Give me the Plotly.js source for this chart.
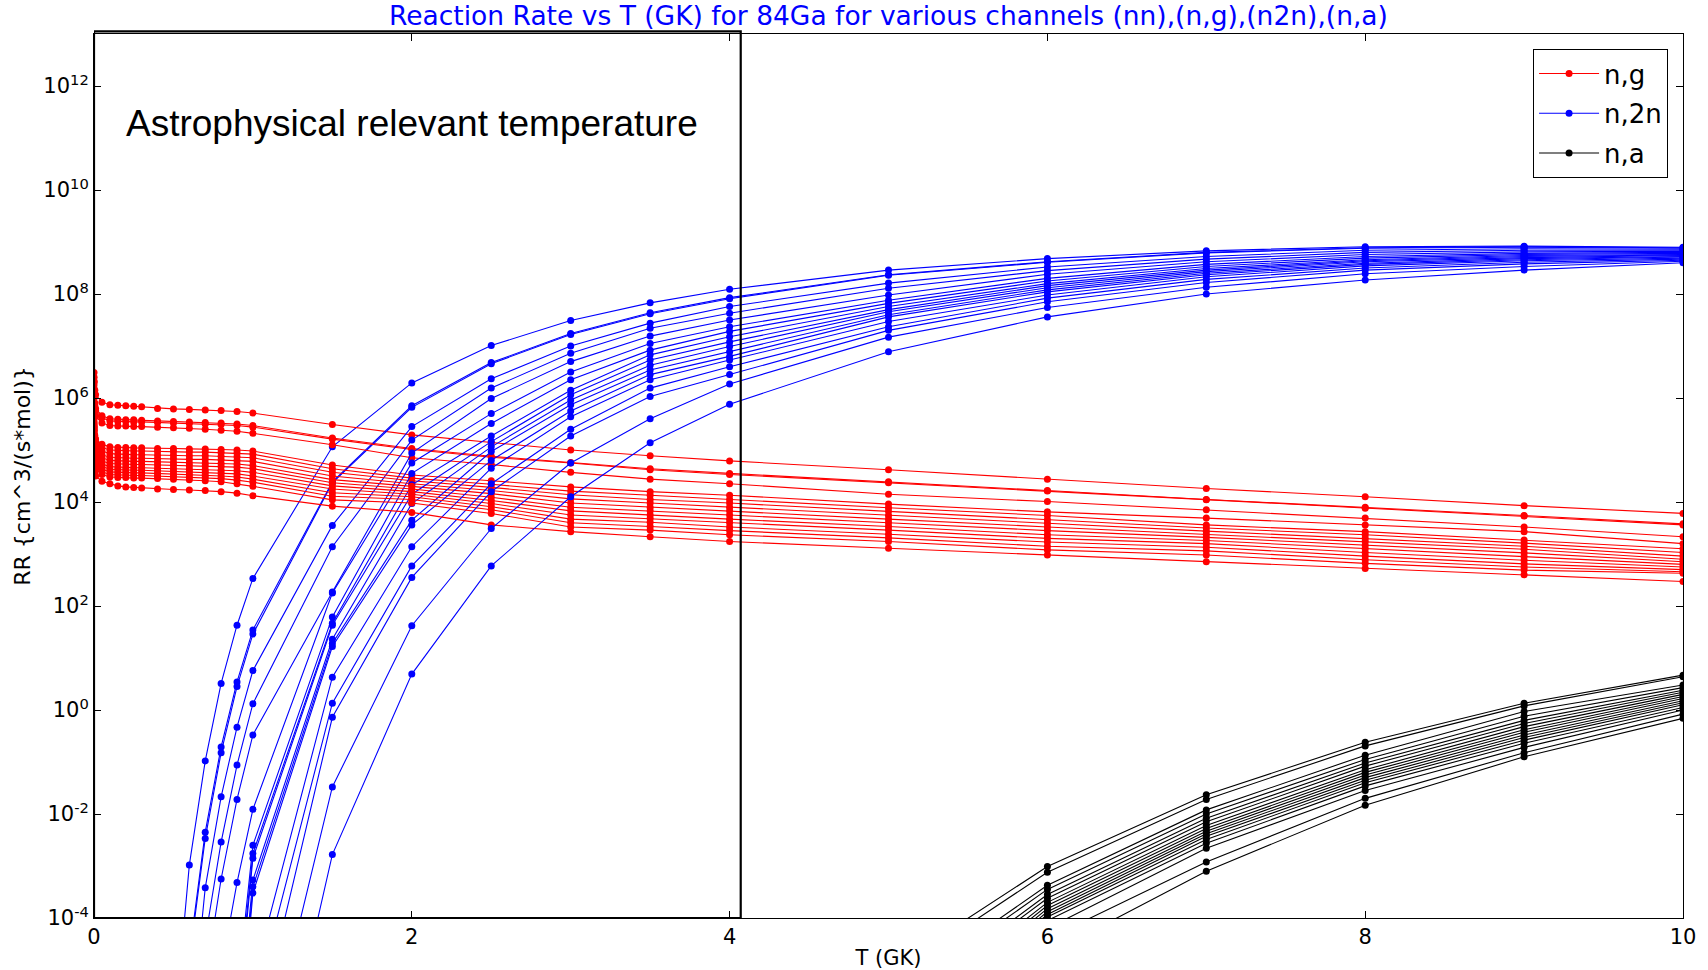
<!DOCTYPE html>
<html>
<head>
<meta charset="utf-8">
<script src="https://cdn.plot.ly/plotly-3.0.1.min.js"></script>
<style>html,body{margin:0;padding:0;background:#fff;}#chart{width:1708px;height:970px;}</style>
</head>
<body>
<div id="chart"></div>
<script>
// Temperature grids (GK)
const T_NG = [0.0001, 0.0005, 0.001, 0.005, 0.01, 0.05, 0.1, 0.15, 0.2, 0.25, 0.3, 0.4, 0.5, 0.6, 0.7, 0.8, 0.9, 1, 1.5, 2, 2.5, 3, 3.5, 4, 5, 6, 7, 8, 9, 10];
const T_N2N = [0.5, 0.6, 0.7, 0.8, 0.9, 1, 1.5, 2, 2.5, 3, 3.5, 4, 5, 6, 7, 8, 9, 10];
const T_NA = [5, 6, 7, 8, 9, 10];

// y tick positions and labels
const Y_TICKS = [1e-4, 1e-2, 1, 1e2, 1e4, 1e6, 1e8, 1e10, 1e12];
const Y_LABELS = ['10<sup>-4</sup>', '10<sup>-2</sup>', '10<sup>0</sup>', '10<sup>2</sup>', '10<sup>4</sup>', '10<sup>6</sup>', '10<sup>8</sup>', '10<sup>10</sup>', '10<sup>12</sup>'];

// (n,g) reaction rates
const NG_01 = [3.09e6, 2.51e6, 2.09e6, 1.41e6, 1.15e6, 8.32e5, 7.41e5, 7.24e5, 7.08e5, 6.92e5, 6.76e5, 6.31e5, 6.17e5, 6.03e5, 5.89e5, 5.75e5, 5.50e5, 5.13e5, 3.09e5, 1.95e5, 1.38e5, 1.0e5, 7.76e4, 6.17e4, 4.17e4, 2.75e4, 1.82e4, 1.26e4, 8.51e3, 6.03e3];
const NG_02 = [2.0e6, 1.51e6, 1.26e6, 7.94e5, 6.31e5, 4.57e5, 3.98e5, 3.89e5, 3.80e5, 3.80e5, 3.72e5, 3.63e5, 3.55e5, 3.47e5, 3.39e5, 3.31e5, 3.16e5, 2.95e5, 1.70e5, 1.07e5, 7.59e4, 5.75e4, 4.37e4, 3.55e4, 2.45e4, 1.66e4, 1.12e4, 7.94e3, 5.50e3, 3.80e3];
const NG_03 = [1.78e6, 1.32e6, 1.12e6, 7.24e5, 5.75e5, 4.17e5, 3.63e5, 3.55e5, 3.55e5, 3.47e5, 3.47e5, 3.39e5, 3.31e5, 3.24e5, 3.16e5, 3.09e5, 2.95e5, 2.75e5, 1.62e5, 1.02e5, 7.24e4, 5.62e4, 4.17e4, 3.39e4, 2.34e4, 1.62e4, 1.10e4, 7.59e3, 5.37e3, 3.63e3];
const NG_04 = [1.26e6, 1.0e6, 8.32e5, 5.62e5, 4.47e5, 3.31e5, 2.95e5, 2.88e5, 2.88e5, 2.82e5, 2.82e5, 2.75e5, 2.69e5, 2.63e5, 2.51e5, 2.40e5, 2.29e5, 2.09e5, 1.26e5, 7.08e4, 5.25e4, 3.72e4, 2.75e4, 2.24e4, 1.41e4, 1.02e4, 7.08e3, 4.90e3, 3.31e3, 2.14e3];
const NG_05 = [4.07e5, 3.24e5, 2.75e5, 1.91e5, 1.62e5, 1.29e5, 1.15e5, 1.12e5, 1.12e5, 1.10e5, 1.10e5, 1.07e5, 1.07e5, 1.05e5, 1.05e5, 1.02e5, 1.0e5, 9.55e4, 5.13e4, 3.31e4, 2.57e4, 1.95e4, 1.58e4, 1.35e4, 9.12e3, 6.46e3, 4.90e3, 3.63e3, 2.69e3, 1.58e3];
const NG_06 = [3.55e5, 2.82e5, 2.40e5, 1.66e5, 1.41e5, 1.12e5, 1.0e5, 9.77e4, 9.77e4, 9.55e4, 9.55e4, 9.33e4, 9.33e4, 9.12e4, 9.12e4, 8.91e4, 8.71e4, 8.32e4, 4.37e4, 2.88e4, 2.19e4, 1.62e4, 1.35e4, 1.12e4, 7.76e3, 5.50e3, 3.63e3, 2.69e3, 1.86e3, 1.26e3];
const NG_07 = [3.02e5, 2.40e5, 2.04e5, 1.41e5, 1.20e5, 9.55e4, 8.51e4, 8.32e4, 8.32e4, 8.13e4, 8.13e4, 7.94e4, 7.94e4, 7.76e4, 7.76e4, 7.59e4, 7.41e4, 7.08e4, 3.72e4, 2.57e4, 1.91e4, 1.38e4, 1.12e4, 9.55e3, 6.61e3, 4.57e3, 3.16e3, 2.34e3, 1.62e3, 1.07e3];
const NG_08 = [2.57e5, 2.04e5, 1.74e5, 1.20e5, 1.02e5, 8.13e4, 7.24e4, 7.08e4, 7.08e4, 6.92e4, 6.92e4, 6.76e4, 6.76e4, 6.61e4, 6.61e4, 6.46e4, 6.31e4, 6.03e4, 3.16e4, 2.24e4, 1.66e4, 1.15e4, 9.55e3, 7.94e3, 5.50e3, 3.89e3, 2.75e3, 2.0e3, 1.41e3, 9.12e2];
const NG_09 = [2.24e5, 1.78e5, 1.51e5, 1.05e5, 8.91e4, 7.08e4, 6.31e4, 6.17e4, 6.17e4, 6.03e4, 6.03e4, 5.89e4, 5.75e4, 5.62e4, 5.62e4, 5.50e4, 5.37e4, 5.01e4, 2.69e4, 2.0e4, 1.45e4, 9.55e3, 7.94e3, 6.76e3, 4.68e3, 3.31e3, 2.40e3, 1.74e3, 1.23e3, 7.94e2];
const NG_10 = [1.95e5, 1.55e5, 1.32e5, 9.12e4, 7.76e4, 6.17e4, 5.50e4, 5.37e4, 5.37e4, 5.25e4, 5.25e4, 5.13e4, 5.01e4, 4.90e4, 4.90e4, 4.79e4, 4.68e4, 4.37e4, 2.34e4, 1.78e4, 1.23e4, 7.94e3, 6.76e3, 5.62e3, 3.98e3, 2.82e3, 2.09e3, 1.48e3, 1.05e3, 7.08e2];
const NG_11 = [1.70e5, 1.35e5, 1.15e5, 7.94e4, 6.76e4, 5.37e4, 4.79e4, 4.68e4, 4.68e4, 4.57e4, 4.57e4, 4.47e4, 4.37e4, 4.27e4, 4.17e4, 4.07e4, 3.98e4, 3.72e4, 2.04e4, 1.58e4, 1.07e4, 6.76e3, 5.62e3, 4.68e3, 3.39e3, 2.34e3, 1.82e3, 1.26e3, 8.91e2, 6.31e2];
const NG_12 = [1.51e5, 1.20e5, 1.02e5, 7.08e4, 6.03e4, 4.79e4, 4.27e4, 4.17e4, 4.17e4, 4.07e4, 4.07e4, 3.98e4, 3.89e4, 3.80e4, 3.72e4, 3.63e4, 3.47e4, 3.16e4, 1.78e4, 1.41e4, 9.33e3, 5.62e3, 4.79e3, 3.98e3, 2.88e3, 2.0e3, 1.58e3, 1.07e3, 7.59e2, 5.62e2];
const NG_13 = [1.35e5, 1.07e5, 9.12e4, 6.31e4, 5.37e4, 4.27e4, 3.80e4, 3.72e4, 3.72e4, 3.63e4, 3.63e4, 3.55e4, 3.47e4, 3.39e4, 3.31e4, 3.16e4, 3.02e4, 2.75e4, 1.51e4, 1.26e4, 8.13e3, 4.68e3, 4.07e3, 3.31e3, 2.40e3, 1.70e3, 1.35e3, 9.12e2, 6.46e2, 5.01e2];
const NG_14 = [1.20e5, 9.55e4, 8.13e4, 5.62e4, 4.79e4, 3.80e4, 3.39e4, 3.31e4, 3.31e4, 3.24e4, 3.24e4, 3.16e4, 3.09e4, 3.02e4, 2.95e4, 2.82e4, 2.63e4, 2.40e4, 1.29e4, 1.12e4, 7.08e3, 3.98e3, 3.39e3, 2.82e3, 2.04e3, 1.41e3, 1.15e3, 7.76e2, 5.62e2, 4.57e2];
const NG_15 = [1.07e5, 8.51e4, 7.24e4, 5.01e4, 4.27e4, 3.39e4, 3.02e4, 2.95e4, 2.95e4, 2.88e4, 2.88e4, 2.82e4, 2.75e4, 2.69e4, 2.57e4, 2.45e4, 2.24e4, 2.0e4, 1.10e4, 9.55e3, 6.03e3, 3.31e3, 2.88e3, 2.34e3, 1.74e3, 1.20e3, 9.55e2, 6.61e2, 4.90e2, 4.27e2];
const NG_16 = [7.94e4, 6.31e4, 5.37e4, 3.72e4, 3.16e4, 2.51e4, 2.24e4, 2.04e4, 1.95e4, 1.91e4, 1.86e4, 1.78e4, 1.74e4, 1.70e4, 1.66e4, 1.58e4, 1.48e4, 1.32e4, 8.32e3, 6.31e3, 3.63e3, 2.69e3, 2.14e3, 1.74e3, 1.29e3, 9.55e2, 7.08e2, 5.25e2, 3.98e2, 2.95e2];

// (n,2n) reaction rates
const N2N_01 = [4.0e-7, 1.05e-3, 1.05e-1, 3.24, 42.7, 339, 1.15e5, 1.95e6, 1.02e7, 3.09e7, 6.76e7, 1.23e8, 2.88e8, 4.79e8, 6.76e8, 8.13e8, 8.32e8, 7.94e8];
const N2N_02 = [null, 2.0e-5, 4.47e-3, 1.95e-1, 3.47, 34.7, 2.45e4, 7.08e5, 4.79e6, 1.74e7, 4.37e7, 8.51e7, 2.34e8, 4.17e8, 6.31e8, 7.76e8, 8.13e8, 7.76e8];
const N2N_03 = [null, 1.58e-5, 3.39e-3, 1.51e-1, 2.82, 28.8, 2.34e4, 6.61e5, 4.57e6, 1.66e7, 4.17e7, 8.13e7, 2.29e8, 4.07e8, 6.17e8, 7.59e8, 7.94e8, 7.59e8];
const N2N_04 = [null, 3.16e-7, 3.80e-4, 2.14e-2, 4.68e-1, 5.75, 3.55e3, 2.82e5, 2.34e6, 1.0e7, 2.75e7, 5.75e7, 1.62e8, 3.31e8, 5.25e8, 6.92e8, 7.41e8, 7.24e8];
const N2N_05 = [null, null, 3.98e-5, 2.88e-3, 8.71e-2, 1.32, 1.38e3, 1.55e5, 1.55e6, 7.24e6, 2.19e7, 4.27e7, 1.29e8, 2.82e8, 4.68e8, 6.31e8, 6.92e8, 6.92e8];
const N2N_06 = [null, null, 6.31e-6, 5.62e-4, 1.91e-2, 3.31e-1, 186, 8.71e4, 9.77e5, 5.01e6, 1.55e7, 3.16e7, 9.55e7, 2.40e8, 4.17e8, 5.75e8, 6.46e8, 6.61e8];
const N2N_07 = [null, null, null, 1.0e-5, 4.79e-4, 1.23e-2, 178, 5.62e4, 5.01e5, 3.16e6, 1.12e7, 2.34e7, 7.59e7, 2.0e8, 3.72e8, 5.25e8, 6.03e8, 6.31e8];
const N2N_08 = [null, null, null, null, 3.16e-6, 2.51e-3, 61.7, 3.55e4, 3.24e5, 2.24e6, 8.32e6, 1.91e7, 6.61e7, 1.78e8, 3.39e8, 4.90e8, 5.75e8, 6.03e8];
const N2N_09 = [null, null, null, null, 1.58e-6, 1.74e-3, 46.8, 2.14e4, 1.86e5, 1.41e6, 6.76e6, 1.51e7, 5.75e7, 1.58e8, 3.09e8, 4.57e8, 5.50e8, 5.75e8];
const N2N_10 = [null, null, null, null, 1.0e-6, 1.41e-3, 42.7, 1.41e4, 1.45e5, 1.15e6, 5.37e6, 1.20e7, 5.01e7, 1.45e8, 2.88e8, 4.37e8, 5.25e8, 5.62e8];
const N2N_11 = [null, null, null, null, 3.16e-7, 5.37e-4, 22.9, 9.33e3, 1.15e5, 9.12e5, 4.27e6, 9.77e6, 4.57e7, 1.32e8, 2.69e8, 4.17e8, 5.01e8, 5.50e8];
const N2N_12 = [null, null, null, null, 1.58e-7, 3.98e-4, 19.1, 4.47e3, 9.33e4, 7.41e5, 3.47e6, 7.76e6, 3.98e7, 1.20e8, 2.51e8, 3.89e8, 4.79e8, 5.25e8];
const N2N_13 = [null, null, null, null, 1.0e-7, 3.02e-4, 16.6, 3.63e3, 6.31e4, 5.62e5, 2.82e6, 6.31e6, 3.63e7, 1.10e8, 2.34e8, 3.72e8, 4.57e8, 5.13e8];
const N2N_14 = [null, null, null, null, null, 6.31e-6, 4.27, 1.38e3, 4.47e4, 4.37e5, 2.24e6, 5.37e6, 2.95e7, 9.55e7, 2.14e8, 3.47e8, 4.37e8, 4.90e8];
const N2N_15 = [null, null, null, null, null, 1.58e-6, 1.35, 589, 2.24e4, 2.51e5, 1.55e6, 3.98e6, 2.34e7, 8.32e7, 1.91e8, 3.16e8, 4.07e8, 4.68e8];
const N2N_16 = [null, null, null, null, null, 2.51e-7, 7.24e-1, 355, 1.58e4, 1.86e5, 1.07e6, 2.82e6, 2.0e7, 7.08e7, 1.66e8, 2.88e8, 3.80e8, 4.47e8];
const N2N_17 = [null, null, null, null, null, 1.58e-8, 3.31e-2, 41.7, 3.09e3, 5.62e4, 3.98e5, 1.86e6, 1.48e7, 5.50e7, 1.35e8, 2.45e8, 3.39e8, 4.27e8];
const N2N_18 = [null, null, null, null, null, 3.16e-10, 1.66e-3, 4.90, 589, 1.26e4, 1.38e5, 7.59e5, 7.76e6, 3.63e7, 1.0e8, 1.86e8, 2.88e8, 3.98e8];

// (n,a) reaction rates
const NA_01 = [1.0e-5, 9.77e-4, 2.34e-2, 2.40e-1, 1.35, 4.68];
const NA_02 = [7.08e-6, 7.59e-4, 1.91e-2, 2.04e-1, 1.20, 4.37];
const NA_03 = [3.16e-6, 4.27e-4, 1.20e-2, 1.35e-1, 9.33e-1, 3.02];
const NA_04 = [2.51e-6, 3.55e-4, 1.0e-2, 1.12e-1, 7.59e-1, 2.69];
const NA_05 = [1.58e-6, 2.82e-4, 8.32e-3, 9.55e-2, 6.31e-1, 2.40];
const NA_06 = [1.26e-6, 2.40e-4, 7.08e-3, 8.32e-2, 5.50e-1, 2.19];
const NA_07 = [7.94e-7, 2.0e-4, 6.03e-3, 7.08e-2, 4.79e-1, 2.0];
const NA_08 = [6.31e-7, 1.74e-4, 5.25e-3, 6.31e-2, 4.17e-1, 1.82];
const NA_09 = [5.01e-7, 1.51e-4, 4.68e-3, 5.62e-2, 3.72e-1, 1.66];
const NA_10 = [3.98e-7, 1.32e-4, 4.17e-3, 5.01e-2, 3.31e-1, 1.51];
const NA_11 = [3.16e-7, 1.17e-4, 3.72e-3, 4.47e-2, 2.95e-1, 1.38];
const NA_12 = [2.51e-7, 1.05e-4, 3.24e-3, 3.98e-2, 2.63e-1, 1.26];
const NA_13 = [2.0e-7, 8.91e-5, 2.75e-3, 3.47e-2, 2.29e-1, 1.12];
const NA_14 = [1.26e-7, 6.31e-5, 2.19e-3, 2.82e-2, 1.91e-1, 1.0];
const NA_15 = [7.94e-8, 3.98e-5, 1.20e-3, 2.0e-2, 1.51e-1, 8.32e-1];
const NA_16 = [3.98e-8, 2.0e-5, 7.94e-4, 1.48e-2, 1.26e-1, 6.92e-1];

const NG_SET = [NG_01, NG_02, NG_03, NG_04, NG_05, NG_06, NG_07, NG_08, NG_09, NG_10, NG_11, NG_12, NG_13, NG_14, NG_15, NG_16];
const N2N_SET = [N2N_01, N2N_02, N2N_03, N2N_04, N2N_05, N2N_06, N2N_07, N2N_08, N2N_09, N2N_10, N2N_11, N2N_12, N2N_13, N2N_14, N2N_15, N2N_16, N2N_17, N2N_18];
const NA_SET = [NA_01, NA_02, NA_03, NA_04, NA_05, NA_06, NA_07, NA_08, NA_09, NA_10, NA_11, NA_12, NA_13, NA_14, NA_15, NA_16];

const LABELS = {ng: 'n,g', n2n: 'n,2n', na: 'n,a'};
const COLORS = {ng: '#ff0000', n2n: '#0000ff', na: '#000000'};
const RANKS = {ng: 1, n2n: 2, na: 3};

function mk(x, y, key, first) {
  return {
    x: x, y: y, type: 'scatter', mode: 'lines+markers',
    name: LABELS[key], legendgroup: key, showlegend: first, legendrank: RANKS[key],
    line: {color: COLORS[key], width: 1.1},
    marker: {color: COLORS[key], size: 7, line: {width: 0}}
  };
}

const traces = [];
const nMax = Math.max(NG_SET.length, N2N_SET.length, NA_SET.length);
for (let i = 0; i < nMax; i++) {
  if (i < N2N_SET.length) traces.push(mk(T_N2N, N2N_SET[i], 'n2n', i === 0));
  if (i < NG_SET.length) traces.push(mk(T_NG, NG_SET[i], 'ng', i === 0));
  if (i < NA_SET.length) traces.push(mk(T_NA, NA_SET[i], 'na', i === 0));
}

const FONT = 'DejaVu Sans, sans-serif';
const tickFont = {family: FONT, size: 21, color: '#000'};

const layout = {
  width: 1708, height: 970,
  paper_bgcolor: '#fff', plot_bgcolor: '#fff',
  margin: {l: 94, r: 25, t: 34, b: 52},
  title: {
    text: 'Reaction Rate vs T (GK) for 84Ga for various channels (nn),(n,g),(n2n),(n,a)',
    font: {family: FONT, size: 26.5, color: '#0000ff'},
    x: 0.5, xref: 'paper', xanchor: 'center', y: 0.9835, yanchor: 'middle'
  },
  xaxis: {
    range: [0, 10], dtick: 2, tick0: 0,
    showgrid: false, zeroline: false,
    showline: true, linecolor: '#000', linewidth: 1, mirror: 'allticks',
    ticks: 'inside', ticklen: 7, tickcolor: '#000',
    tickfont: tickFont,
    title: {text: 'T (GK)', font: {family: FONT, size: 21, color: '#000'}, standoff: 4}
  },
  yaxis: {
    type: 'log', range: [-4, 13],
    tickmode: 'array', tickvals: Y_TICKS, ticktext: Y_LABELS,
    showgrid: false, zeroline: false,
    showline: true, linecolor: '#000', linewidth: 1, mirror: 'allticks',
    ticks: 'inside', ticklen: 7, tickcolor: '#000',
    tickfont: tickFont,
    title: {text: 'RR {cm^3/(s*mol)}', font: {family: FONT, size: 22, color: '#000'}, standoff: 6}
  },
  legend: {
    x: 0.9906, y: 0.983, xanchor: 'right', yanchor: 'top',
    bgcolor: '#fff', bordercolor: '#000', borderwidth: 1,
    font: {family: FONT, size: 26, color: '#000'},
    traceorder: 'grouped', tracegroupgap: 3, itemwidth: 60
  },
  shapes: [{
    type: 'rect', xref: 'x', yref: 'paper',
    x0: 0, x1: 4.07, y0: 0, y1: 1.003,
    line: {color: '#000', width: 2.2}, fillcolor: 'rgba(0,0,0,0)', layer: 'above'
  }],
  annotations: [{
    text: 'Astrophysical relevant temperature',
    xref: 'x', yref: 'paper', x: 2.0, y: 0.899,
    xanchor: 'center', yanchor: 'middle', showarrow: false,
    font: {family: 'Liberation Sans, Arial, sans-serif', size: 37, color: '#000'}
  }],
  showlegend: true
};

Plotly.newPlot('chart', traces, layout, {displayModeBar: false, staticPlot: true});
</script>
</body>
</html>
